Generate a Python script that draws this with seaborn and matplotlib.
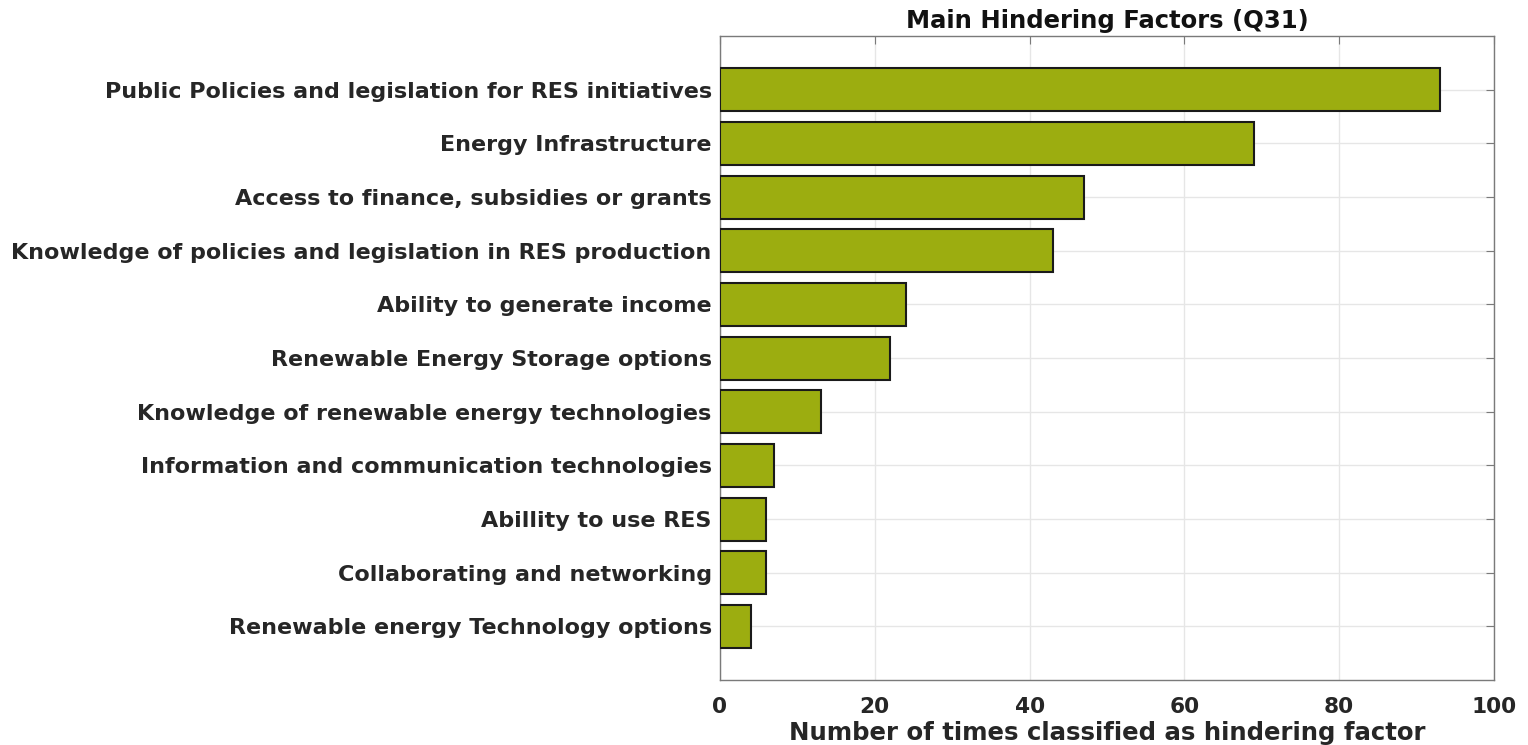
import pandas as pd
import matplotlib
matplotlib.use("Agg")
import matplotlib.pyplot as plt
import seaborn as sns

factors = [
    "Public Policies and legislation for RES initiatives",
    "Energy Infrastructure",
    "Access to finance, subsidies or grants",
    "Knowledge of policies and legislation in RES production",
    "Ability to generate income",
    "Renewable Energy Storage options",
    "Knowledge of renewable energy technologies",
    "Information and communication technologies",
    "Abillity to use RES",
    "Collaborating and networking",
    "Renewable energy Technology options",
]
counts = [93, 69, 47, 43, 24, 22, 13, 7, 6, 6, 4]
x_ticks = [0, 20, 40, 60, 80, 100]

df = pd.DataFrame({"factor": factors, "count": counts})

sns.set_style("white")
plt.rcParams["font.family"] = ["DejaVu Sans"]
plt.rcParams["font.weight"] = "bold"

fig = plt.figure(figsize=(15.28, 7.45), dpi=100)
ax = fig.add_axes([0.4712, 0.0872, 0.5065, 0.8644])

sns.barplot(
    data=df, x="count", y="factor", orient="h",
    color="#9cad10", saturation=1, width=0.8,
    edgecolor="#1a1a1a", linewidth=1.5, ax=ax, zorder=3,
)

ax.set_xlim(0, 100)
ax.set_ylim(11, -1)
ax.set_xticks(x_ticks)
ax.grid(True, color="#e6e6e6", linewidth=1, zorder=0)
ax.set_axisbelow(True)

for s in ax.spines.values():
    s.set_color("#7a7a7a")
    s.set_linewidth(1)
    s.set_visible(True)

ax.tick_params(axis="both", direction="in", length=6, color="#7a7a7a",
               top=True, right=True, labelsize=16, labelcolor="#262626", pad=6)
ax.tick_params(axis="x", labelsize=15.6, pad=12)
for lab in ax.get_yticklabels() + ax.get_xticklabels():
    lab.set_fontweight("bold")

ax.set_title("Main Hindering Factors (Q31)", fontsize=17.5, fontweight="bold", color="#111111", pad=6)
ax.set_xlabel("Number of times classified as hindering factor", fontsize=17.6, fontweight="bold",
              color="#262626", labelpad=3)
ax.set_ylabel("")

fig.savefig("out.png", dpi=100)
